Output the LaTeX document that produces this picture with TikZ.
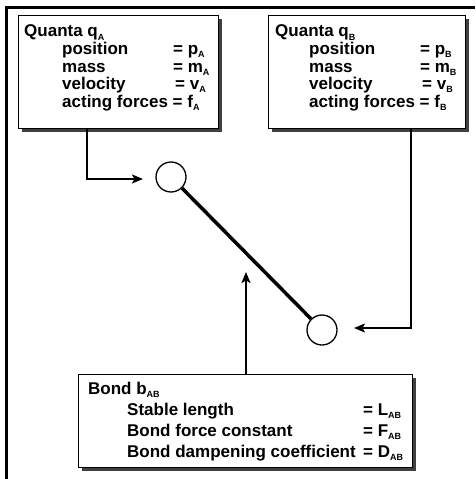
\documentclass[tikz,border=0pt]{standalone}
\usepackage{fontspec}
\setmainfont{Liberation Sans}
\usetikzlibrary{arrows.meta,shadows}
\newcommand{\sbs}[1]{\raisebox{-3.5pt}{\fontsize{9}{9}\selectfont\bfseries #1}}
\begin{document}
\begin{tikzpicture}[x=1pt,y=-1pt,
  box/.style={draw=black, line width=1.4pt, fill=white, inner sep=0pt, anchor=north west,
    drop shadow={shadow xshift=3pt, shadow yshift=-3pt, opacity=0.75, fill=black}},
  txt/.style={anchor=base west, inner sep=0pt, font=\fontsize{17}{17}\selectfont\bfseries},
  txtb/.style={anchor=base west, inner sep=0pt, font=\fontsize{17}{17}\selectfont\bfseries},
  ball/.style={circle, draw=black, line width=1.3pt, minimum size=30pt, inner sep=0pt, fill=white},
  arr/.style={line width=1.7pt, -{Stealth[length=11pt,width=9pt,inset=2.5pt]}}]
\useasboundingbox (0,0) rectangle (475,479);
% frame
\draw[line width=3pt] (475,7.5) -- (6.5,7.5) -- (6.5,479);

% boxes
\node[box, minimum width=200pt, minimum height=113pt] (qa) at (18,15) {};
\node[box, minimum width=197pt, minimum height=113pt] (qb) at (268,15) {};
\node[box, minimum width=334pt, minimum height=93pt] (bond) at (78,374) {};

% box A text
\node[txt] (qat) at (24,36.5) {Quanta q\sbs{A}};
\node[txt] (qa1) at (62,54) {position};
\node[txt] (qa1v) at (173,54) {= p\sbs{A}};
\node[txt] (qa2) at (62,72) {mass};
\node[txt] (qa2v) at (173,72) {= m\sbs{A}};
\node[txt] (qa3) at (62,89) {velocity};
\node[txt] (qa3v) at (175,89) {= v\sbs{A}};
\node[txt] (qa4) at (62,107) {acting forces = f\sbs{A}};

% box B text
\node[txt] (qbt) at (275,36.5) {Quanta q\sbs{B}};
\node[txt] (qb1) at (309,54) {position};
\node[txt] (qb1v) at (420,54) {= p\sbs{B}};
\node[txt] (qb2) at (309,72) {mass};
\node[txt] (qb2v) at (420,72) {= m\sbs{B}};
\node[txt] (qb3) at (309,89) {velocity};
\node[txt] (qb3v) at (422,89) {= v\sbs{B}};
\node[txt] (qb4) at (309,107) {acting forces = f\sbs{B}};

% bond text
\node[txtb] (bt) at (88,394) {Bond b\sbs{AB}};
\node[txtb] (b1) at (127,415) {Stable length};
\node[txtb] (b1v) at (363,415) {= L\sbs{AB}};
\node[txtb] (b2) at (127,436) {Bond force constant};
\node[txtb] (b2v) at (363,436) {= F\sbs{AB}};
\node[txtb] (b3) at (127,457) {Bond dampening coefficient};
\node[txtb] (b3v) at (363,457) {= D\sbs{AB}};

% quanta
\node[ball] (ca) at (171,177) {};
\node[ball] (cb) at (322,330) {};
\draw[line width=3.5pt] (ca) -- (cb);

% connectors
\coordinate (abend) at (87,179);
\coordinate (aend) at (143,179);
\coordinate (bbend) at (411,328);
\coordinate (bend) at (354,328);
\coordinate (bondend) at (246,272);
\draw[arr] (qa.south -| abend) |- (aend);
\draw[arr] (qb.south -| bbend) |- (bend);
\draw[arr] (bond.north -| bondend) -- (bondend);
\end{tikzpicture}
\end{document}
